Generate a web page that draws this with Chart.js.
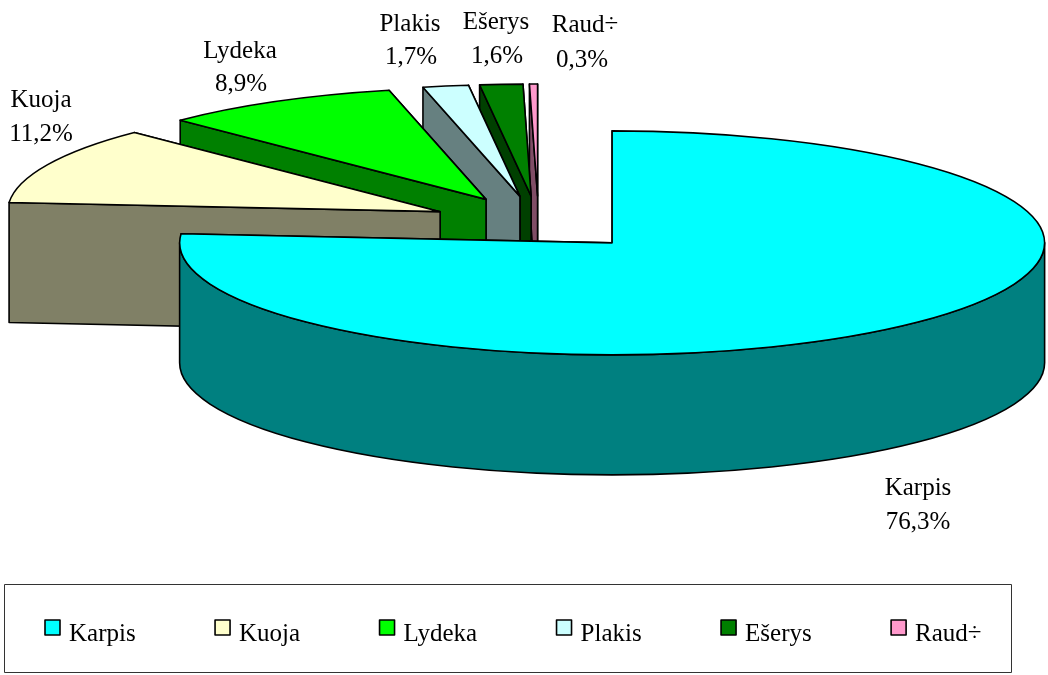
<!DOCTYPE html>
<html><head><meta charset="utf-8">
<style>html,body{margin:0;padding:0;background:#fff}canvas{display:block}</style>
<script src="https://cdn.jsdelivr.net/npm/chart.js@4"></script>
</head><body>
<canvas id="c" width="1048" height="675"></canvas>
<script>
const categories = ['Karpis','Kuoja','Lydeka','Plakis','Ešerys','Raud÷'];
const shares = [76.3,11.2,8.9,1.7,1.6,0.3];
const topColors = ['#00FFFF','#FFFFCC','#00FF00','#CCFFFF','#008000','#FF99CC'];
const wallColors = ['#008080','#808066','#008000','#668080','#004000','#804D66'];

// 3D projection layout
const HUB = {x:538.6, y:223}, RX = 432.5, RY = 112, DEPTH = 120, EXPLODE_X = 108.5, EXPLODE_Y = 27;
const FONT = '25px "Liberation Serif"';
const labelAnchors = [[918,495,918,529],[41,107,41,141],[240,58,241,91],[410,31,411,64],[496,29,497,63],[585,32,582,67]];
const LEGEND = {x0:45, boxTop:620, box:15, textDx:24, baseline:641, gap:79.4, frame:[4.5,584.5,1007,88]};

function drawSlice(ctx, el, i) {
  const s = el.startAngle, e = el.endAngle, mid = (s+e)/2;
  const cx = HUB.x + EXPLODE_X*Math.cos(mid), cy = HUB.y + EXPLODE_Y*Math.sin(mid);
  const px = a => cx + RX*Math.cos(a), py = a => cy + RY*Math.sin(a);
  ctx.lineWidth = 1.6; ctx.strokeStyle = '#000'; ctx.lineJoin = 'round';
  const quad = a => {
    ctx.beginPath(); ctx.moveTo(cx,cy); ctx.lineTo(px(a),py(a));
    ctx.lineTo(px(a),py(a)+DEPTH); ctx.lineTo(cx,cy+DEPTH); ctx.closePath();
    ctx.fillStyle = wallColors[i]; ctx.fill(); ctx.stroke();
  };
  quad(e); quad(s);
  const lo = Math.max(s,0), hi = Math.min(e,Math.PI);
  if (hi > lo) {
    ctx.beginPath();
    ctx.ellipse(cx,cy,RX,RY,0,lo,hi);
    ctx.ellipse(cx,cy+DEPTH,RX,RY,0,hi,lo,true);
    ctx.closePath(); ctx.fillStyle = wallColors[i]; ctx.fill(); ctx.stroke();
  }
  // top face: the library's own arc element, under the tilt transform
  const R = el.outerRadius;
  const tilt = () => { ctx.translate(cx,cy); ctx.scale(RX/R,RY/R); ctx.translate(-el.x,-el.y); };
  ctx.save(); tilt(); el.draw(ctx); ctx.restore();
  ctx.save(); tilt();
  ctx.beginPath(); ctx.moveTo(el.x,el.y); ctx.arc(el.x,el.y,R,s,e); ctx.closePath();
  ctx.restore();
  ctx.stroke();
}

const tiltPlugin = {
  id:'tilt3d',
  beforeDatasetDraw(chart){
    const ctx = chart.ctx, arcs = chart.getDatasetMeta(0).data;
    for (let i = arcs.length-1; i >= 0; i--) drawSlice(ctx, arcs[i], i);
    return false;
  },
  afterDraw(chart){
    const ctx = chart.ctx;
    ctx.save();
    ctx.font = FONT; ctx.fillStyle = '#000'; ctx.textAlign = 'center'; ctx.textBaseline = 'alphabetic';
    categories.forEach((name,i)=>{
      const a = labelAnchors[i];
      ctx.fillText(name,a[0],a[1]);
      ctx.fillText(shares[i].toFixed(1).replace('.',',')+'%',a[2],a[3]);
    });
    ctx.strokeStyle = '#333'; ctx.lineWidth = 1;
    ctx.strokeRect(...LEGEND.frame);
    ctx.textAlign = 'left';
    let x = LEGEND.x0;
    categories.forEach((name,i)=>{
      ctx.fillStyle = topColors[i]; ctx.strokeStyle = '#000'; ctx.lineWidth = 1.6;
      ctx.fillRect(x,LEGEND.boxTop,LEGEND.box,LEGEND.box);
      ctx.strokeRect(x,LEGEND.boxTop,LEGEND.box,LEGEND.box);
      ctx.fillStyle = '#000';
      ctx.fillText(name,x+LEGEND.textDx,LEGEND.baseline);
      x += LEGEND.textDx + ctx.measureText(name).width + LEGEND.gap;
    });
    ctx.restore();
  }
};

new Chart(document.getElementById('c'),{
  type:'pie',
  data:{labels:categories,datasets:[{data:shares,backgroundColor:topColors,borderWidth:0}]},
  options:{responsive:false,animation:false,events:[],
    plugins:{legend:{display:false},tooltip:{enabled:false}}},
  plugins:[tiltPlugin]
});
</script>
</body></html>
